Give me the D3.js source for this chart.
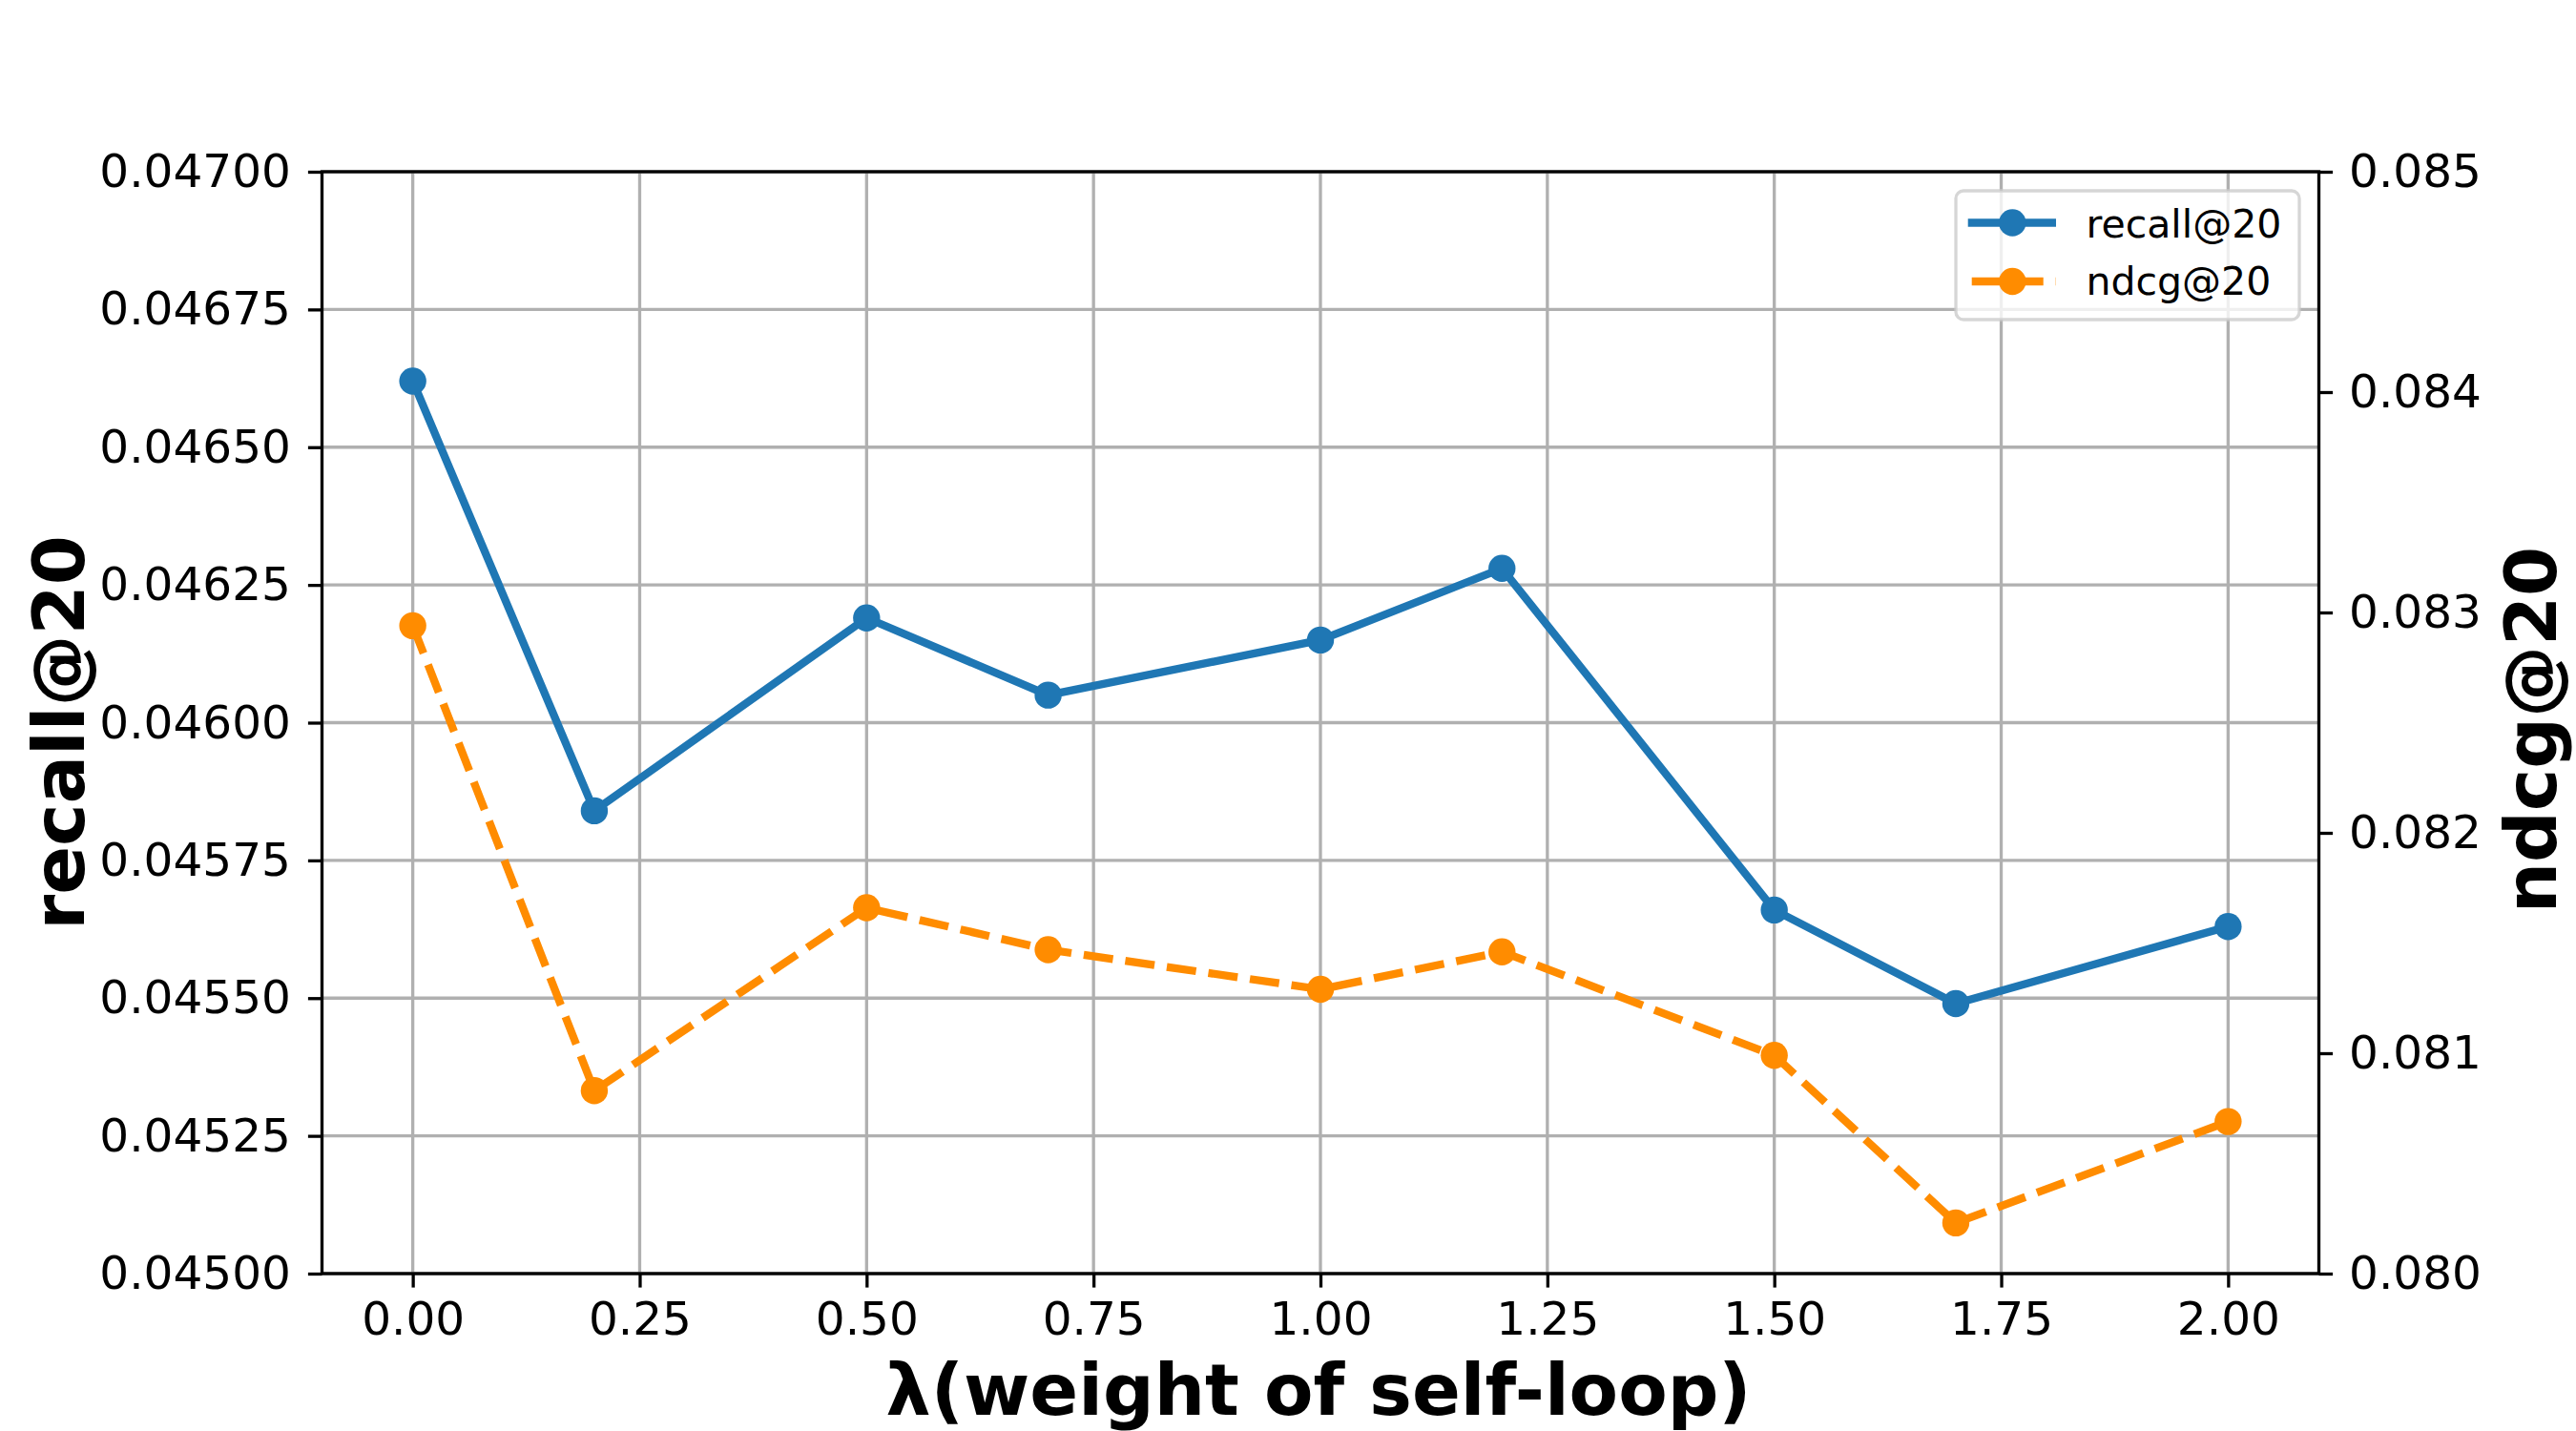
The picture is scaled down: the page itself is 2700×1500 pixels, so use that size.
<!DOCTYPE html>
<html>
<head>
<meta charset="utf-8">
<script src="https://cdn.jsdelivr.net/npm/d3@7"></script>
<style>
  html, body { margin: 0; padding: 0; background: #fff; }
  svg text { font-family: "DejaVu Sans", sans-serif; }
</style>
</head>
<body>
<div id="chart"></div>
<script>
// values
const lambdas = [0, 0.2, 0.5, 0.7, 1.0, 1.2, 1.5, 1.7, 2.0];
const recall = [0.04662, 0.04584, 0.04619, 0.04605, 0.04615, 0.04628, 0.04566, 0.04549, 0.04563];
const ndcg = [0.08294, 0.08083, 0.08166, 0.08147, 0.08129, 0.08146, 0.08099, 0.08023, 0.08069];

const xTicks = [0, 0.25, 0.5, 0.75, 1.0, 1.25, 1.5, 1.75, 2.0];
const recallTicks = [0.045, 0.04525, 0.0455, 0.04575, 0.046, 0.04625, 0.0465, 0.04675, 0.047];
const ndcgTicks = [0.080, 0.081, 0.082, 0.083, 0.084, 0.085];
const seriesNames = ["recall@20", "ndcg@20"];

const width = 2700, height = 1500;
const plotL = 337.5, plotR = 2430.5, plotT = 180, plotB = 1335;
const blue = "#1f77b4", orange = "#ff8c00";

const svg = d3.select("#chart").append("svg")
    .attr("width", width)
    .attr("height", height);

const x = d3.scaleLinear().domain([-0.1, 2.1]).range([plotL, plotR]);
const yL = d3.scaleLinear().domain([0.045, 0.047]).range([plotB, plotT]);
const yR = d3.scaleLinear().domain([0.080, 0.085]).range([plotB, plotT]);

// grid
const grid = svg.append("g").attr("stroke", "#b0b0b0").attr("stroke-width", 3.3);
grid.selectAll(".gx").data(xTicks).enter().append("line")
    .attr("x1", d => x(d)).attr("x2", d => x(d))
    .attr("y1", plotT).attr("y2", plotB);
grid.selectAll(".gy").data(recallTicks).enter().append("line")
    .attr("x1", plotL).attr("x2", plotR)
    .attr("y1", d => yL(d)).attr("y2", d => yL(d));

// lines
function drawSeries(values, yScale, color, dash) {
    const pts = lambdas.map((l, i) => [l, values[i]]);
    const line = d3.line().x(d => x(d[0])).y(d => yScale(d[1]));
    svg.append("path")
        .datum(pts)
        .attr("d", line)
        .attr("fill", "none")
        .attr("stroke", color)
        .attr("stroke-width", 8.3)
        .attr("stroke-dasharray", dash)
        .attr("stroke-linejoin", "round");
    svg.append("g").selectAll("circle")
        .data(pts).enter().append("circle")
        .attr("cx", d => x(d[0]))
        .attr("cy", d => yScale(d[1]))
        .attr("r", 14.2)
        .attr("fill", color);
}
drawSeries(recall, yL, blue, null);
drawSeries(ndcg, yR, orange, "31,13");

// axes
function styleAxis(g) {
    g.select(".domain").remove();
    g.selectAll(".tick line").attr("stroke", "#000").attr("stroke-width", 3.3);
    g.selectAll(".tick text").attr("fill", "#000").style("font-size", "48.5px");
}
svg.append("g")
    .attr("transform", `translate(0,${plotB})`)
    .call(d3.axisBottom(x).tickValues(xTicks).tickFormat(d3.format(".2f")).tickSize(14.6).tickPadding(15))
    .call(styleAxis);
svg.append("g")
    .attr("transform", `translate(${plotL},0)`)
    .call(d3.axisLeft(yL).tickValues(recallTicks).tickFormat(d3.format(".5f")).tickSize(14.6).tickPadding(18))
    .call(styleAxis);
svg.append("g")
    .attr("transform", `translate(${plotR},0)`)
    .call(d3.axisRight(yR).tickValues(ndcgTicks).tickFormat(d3.format(".3f")).tickSize(14.6).tickPadding(17))
    .call(styleAxis);

// spines
svg.append("rect")
    .attr("x", plotL).attr("y", plotT)
    .attr("width", plotR - plotL).attr("height", plotB - plotT)
    .attr("fill", "none").attr("stroke", "#000").attr("stroke-width", 3.3);

// axis labels
svg.append("text")
    .attr("x", 1382).attr("y", 1483)
    .attr("text-anchor", "middle")
    .style("font-size", "75px").style("font-weight", "bold")
    .text("λ(weight of self-loop)");
svg.append("text")
    .attr("transform", "translate(88,768) rotate(-90)")
    .attr("text-anchor", "middle")
    .style("font-size", "75px").style("font-weight", "bold")
    .text("recall@20");
svg.append("text")
    .attr("transform", "translate(2679,765) rotate(-90)")
    .attr("text-anchor", "middle")
    .style("font-size", "75px").style("font-weight", "bold")
    .text("ndcg@20");

// legend
const legend = svg.append("g");
legend.append("rect")
    .attr("x", 2050).attr("y", 200)
    .attr("width", 360).attr("height", 135)
    .attr("rx", 8)
    .attr("fill", "#fff").attr("fill-opacity", 0.8)
    .attr("stroke", "#cccccc").attr("stroke-opacity", 0.8).attr("stroke-width", 3.3);
const legendRows = [
    { name: seriesNames[0], color: blue, dash: null, cy: 233.5, base: 248.5, x1: 2062.7 },
    { name: seriesNames[1], color: orange, dash: "31,13", cy: 295, base: 308.5, x1: 2066.7 }
];
const rows = legend.selectAll(".row").data(legendRows).enter().append("g");
rows.append("line")
    .attr("x1", d => d.x1).attr("x2", 2155)
    .attr("y1", d => d.cy).attr("y2", d => d.cy)
    .attr("stroke", d => d.color).attr("stroke-width", 8.3)
    .attr("stroke-dasharray", d => d.dash);
rows.append("circle")
    .attr("cx", 2109.3).attr("cy", d => d.cy).attr("r", 14.2)
    .attr("fill", d => d.color);
rows.append("text")
    .attr("x", 2186.5).attr("y", d => d.base)
    .style("font-size", "41px")
    .text(d => d.name);
</script>
</body>
</html>
